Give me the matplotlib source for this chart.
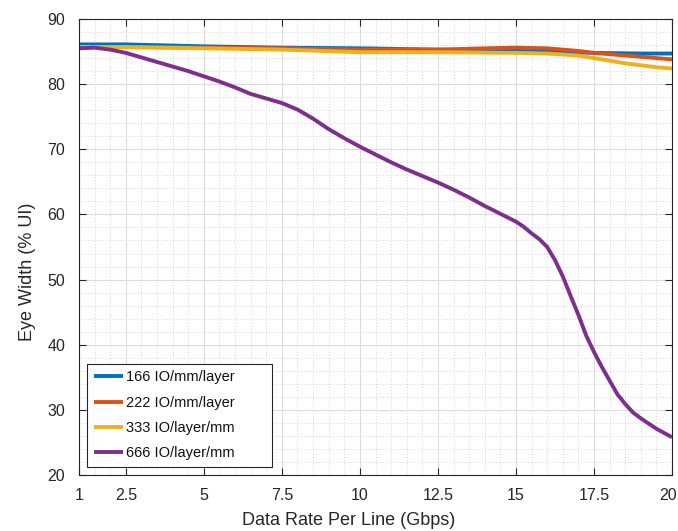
import matplotlib
matplotlib.use("Agg")
import matplotlib.pyplot as plt
from matplotlib.ticker import MultipleLocator
import matplotlib.transforms as mtransforms

plt.rcParams['font.family'] = ['Liberation Sans', 'DejaVu Sans']

# Data
x_166 = [1, 2.5, 5, 7.5, 10, 12.5, 15, 16, 17.5, 19, 20]
y_166 = [86.1, 86.1, 85.8, 85.6, 85.5, 85.3, 85.1, 85.0, 84.8, 84.7, 84.7]

x_222 = [1, 2.5, 5, 7.5, 10, 12.5, 14, 15, 16, 17, 17.5, 19, 20]
y_222 = [85.7, 85.7, 85.6, 85.5, 85.3, 85.3, 85.5, 85.6, 85.5, 85.1, 84.8, 84.2, 83.8]

x_333 = [1, 2.5, 5, 7.5, 10, 12.5, 15, 16, 17, 17.5, 18.5, 19.5, 20]
y_333 = [85.7, 85.7, 85.5, 85.3, 84.9, 84.9, 84.8, 84.7, 84.4, 84.0, 83.2, 82.6, 82.4]

x_666 = [1, 1.5, 2, 2.5, 3, 3.5, 4, 4.5, 5, 5.5, 6, 6.5, 7, 7.5, 8, 8.5, 9, 9.5,
         10, 10.5, 11, 11.5, 12, 12.5, 13, 13.5, 14, 14.5, 15, 15.25, 15.5, 15.75,
         16, 16.25, 16.5, 16.75, 17, 17.25, 17.5, 17.75, 18, 18.25, 18.5, 18.75,
         19, 19.5, 20]
y_666 = [85.5, 85.6, 85.3, 84.8, 84.1, 83.4, 82.7, 82.0, 81.2, 80.4, 79.5, 78.5,
         77.8, 77.1, 76.1, 74.7, 73.1, 71.7, 70.4, 69.2, 68.0, 66.9, 65.9, 64.9,
         63.8, 62.6, 61.3, 60.1, 58.9, 58.1, 57.1, 56.2, 55.0, 53.0, 50.5, 47.5,
         44.6, 41.4, 38.9, 36.6, 34.5, 32.4, 30.9, 29.6, 28.7, 27.1, 25.8]

labels = ['166 IO/mm/layer', '222 IO/mm/layer', '333 IO/layer/mm', '666 IO/layer/mm']
colors = ['#0072BD', '#D95319', '#EDB120', '#7E2F8E']
x_ticks = [1, 2.5, 5, 7.5, 10, 12.5, 15, 17.5, 20]
x_tick_labels = ['1', '2.5', '5', '7.5', '10', '12.5', '15', '17.5', '20']
y_ticks = [20, 30, 40, 50, 60, 70, 80, 90]

W, H = 678, 531
L, R, T, B = 79, 672, 19, 475
fig = plt.figure(figsize=(W / 100, H / 100), dpi=100)
ax = fig.add_axes([L / W, (H - B) / H, (R - L) / W, (B - T) / H])
aw, ah = R - L, B - T

series = [(x_166, y_166), (x_222, y_222), (x_333, y_333), (x_666, y_666)]
for (xs, ys), lab, c in zip(series, labels, colors):
    ax.plot(xs, ys, color=c, lw=2.8, label=lab, solid_capstyle='butt',
            solid_joinstyle='round')

ax.set_xlim(1, 20)
ax.set_ylim(20, 90)
ax.set_xticks(x_ticks)
ax.set_xticklabels(x_tick_labels)
ax.set_yticks(y_ticks)
ax.xaxis.set_minor_locator(MultipleLocator(0.5))
ax.yaxis.set_minor_locator(MultipleLocator(2))

ax.grid(True, which='major', color='#dcdcdc', lw=0.8, ls='-')
ax.grid(True, which='minor', color='#d4d4d4', lw=0.7, ls=(0, (1, 2)))
ax.set_axisbelow(True)

ax.tick_params(which='major', direction='in', length=5, width=0.8, top=True, right=True,
               labelsize=11.5, colors='#262626')
ax.tick_params(axis='x', which='major', pad=9)
ax.tick_params(axis='y', which='major', pad=10)
ax.tick_params(which='minor', length=0, top=True, right=True)
for sp in ax.spines.values():
    sp.set_color('#262626')
    sp.set_linewidth(0.8)

# nudge the last x tick label so it stays inside the figure
last = ax.get_xticklabels()[-1]
last.set_transform(last.get_transform() + mtransforms.ScaledTranslation(-4 / 100, 0, fig.dpi_scale_trans))

ax.set_xlabel('Data Rate Per Line (Gbps)', fontsize=13, color='#262626')
ax.set_ylabel('Eye Width (% UI)', fontsize=13, color='#262626')
ax.xaxis.set_label_coords((349 - L) / aw, -37 / ah)
ax.yaxis.set_label_coords(-43 / aw, (B - 272) / ah)

leg = ax.legend(loc='lower left', bbox_to_anchor=(8 / aw, 8 / ah, 185 / aw, 102 / ah),
                mode='expand', fontsize=10.5,
                frameon=True, fancybox=False, edgecolor='#262626', framealpha=1,
                handlelength=2.0, handletextpad=0.2, borderpad=0.45, labelspacing=0.78,
                borderaxespad=0)
leg.get_frame().set_linewidth(0.8)
for t in leg.get_texts():
    t.set_color('#111111')

fig.savefig('out.png', dpi=100)
